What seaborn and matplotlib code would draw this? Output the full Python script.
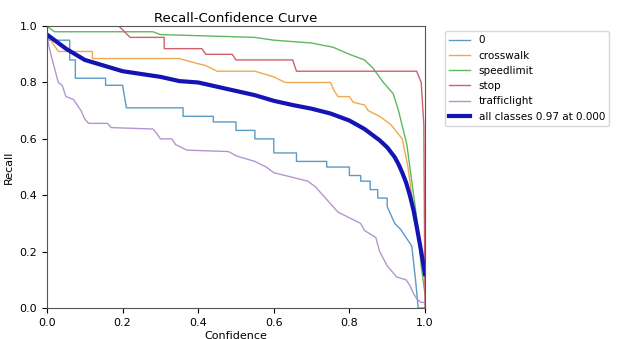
import pandas as pd
import matplotlib
matplotlib.use('Agg')
import matplotlib.pyplot as plt
from matplotlib.ticker import FormatStrFormatter
import seaborn as sns

# Datos
x_0 = [0, 0.005, 0.06, 0.06, 0.075, 0.075, 0.155, 0.155, 0.2, 0.21, 0.36, 0.36, 0.44, 0.44,
       0.5, 0.5, 0.55, 0.55, 0.6, 0.6, 0.66, 0.66, 0.74, 0.74, 0.8, 0.8, 0.83, 0.83, 0.855, 0.855,
       0.875, 0.875, 0.9, 0.9, 0.92, 0.935, 0.95, 0.965, 0.975, 0.982, 1.0]
y_0 = [0.97, 0.95, 0.95, 0.88, 0.88, 0.815, 0.815, 0.79, 0.79, 0.71, 0.71, 0.68, 0.68, 0.66,
       0.66, 0.63, 0.63, 0.60, 0.60, 0.55, 0.55, 0.52, 0.52, 0.50, 0.50, 0.47, 0.47, 0.45, 0.45, 0.42,
       0.42, 0.39, 0.39, 0.36, 0.30, 0.28, 0.25, 0.22, 0.10, 0.0, 0.0]

x_cross = [0, 0.03, 0.12, 0.12, 0.35, 0.39, 0.42, 0.45, 0.55, 0.6, 0.63, 0.75, 0.76, 0.77, 0.8,
           0.81, 0.84, 0.85, 0.88, 0.91, 0.94, 0.955, 0.97, 0.985, 1.0]
y_cross = [0.97, 0.91, 0.91, 0.885, 0.885, 0.87, 0.86, 0.84, 0.84, 0.82, 0.80, 0.80, 0.77, 0.75, 0.75,
           0.73, 0.72, 0.70, 0.68, 0.65, 0.60, 0.50, 0.35, 0.25, 0.12]

x_speed = [0, 0.02, 0.28, 0.3, 0.55, 0.6, 0.7, 0.757, 0.8, 0.84, 0.863, 0.89, 0.916, 0.93,
           0.952, 0.965, 0.98, 0.99, 1.0]
y_speed = [1.0, 0.98, 0.98, 0.97, 0.96, 0.95, 0.94, 0.925, 0.90, 0.88, 0.85, 0.80, 0.76, 0.70,
           0.58, 0.45, 0.30, 0.15, 0.05]

x_stop = [0, 0.19, 0.22, 0.31, 0.31, 0.41, 0.42, 0.49, 0.5, 0.65, 0.66, 0.978, 0.99, 0.997, 1.0]
y_stop = [1.0, 1.0, 0.96, 0.96, 0.92, 0.92, 0.90, 0.90, 0.88, 0.88, 0.84, 0.84, 0.80, 0.65, 0.0]

x_traffic = [0, 0.01, 0.02, 0.03, 0.04, 0.05, 0.07, 0.08, 0.09, 0.1, 0.11, 0.16, 0.17, 0.28, 0.29,
             0.3, 0.33, 0.34, 0.37, 0.48, 0.5, 0.55, 0.58, 0.6, 0.63, 0.66, 0.69, 0.71, 0.73, 0.75,
             0.77, 0.8, 0.83, 0.84, 0.87, 0.88, 0.9, 0.925, 0.95, 0.96, 0.97, 0.98, 0.99, 1.0]
y_traffic = [0.96, 0.9, 0.85, 0.8, 0.79, 0.75, 0.74, 0.72, 0.70, 0.67, 0.655, 0.655, 0.64, 0.635, 0.62,
             0.60, 0.60, 0.58, 0.56, 0.555, 0.54, 0.52, 0.50, 0.48, 0.47, 0.46, 0.45, 0.43, 0.40, 0.37,
             0.34, 0.32, 0.30, 0.275, 0.25, 0.20, 0.15, 0.11, 0.10, 0.08, 0.05, 0.03, 0.02, 0.02]

x_all = [0, 0.05, 0.1, 0.15, 0.2, 0.25, 0.3, 0.35, 0.4, 0.45, 0.5, 0.55, 0.6, 0.65, 0.7, 0.75,
         0.8, 0.82, 0.84, 0.86, 0.88, 0.9, 0.92, 0.93, 0.94, 0.95, 0.96, 0.97, 0.98, 0.99, 1.0]
y_all = [0.97, 0.92, 0.88, 0.86, 0.84, 0.83, 0.82, 0.805, 0.80, 0.785, 0.77, 0.755, 0.735, 0.72,
         0.707, 0.69, 0.665, 0.65, 0.635, 0.615, 0.595, 0.57, 0.535, 0.51, 0.48, 0.445, 0.40,
         0.345, 0.275, 0.20, 0.12]

clases = ['0', 'crosswalk', 'speedlimit', 'stop', 'trafficlight']
curvas = [(x_0, y_0), (x_cross, y_cross), (x_speed, y_speed), (x_stop, y_stop), (x_traffic, y_traffic)]
colores = ['#5b9bc4', '#f0a850', '#5fb860', '#d0606a', '#b496cf']

fig = plt.figure(figsize=(6.31, 3.39), dpi=100)
ax = fig.add_axes([0.0745, 0.0914, 0.599, 0.8316])

for nombre, (xs, ys), c in zip(clases, curvas, colores):
    sns.lineplot(x=xs, y=ys, ax=ax, color=c, linewidth=1, label=nombre,
                 estimator=None, sort=False)

sns.lineplot(x=x_all, y=y_all, ax=ax, color='#1414b4', linewidth=3,
             label='all classes 0.97 at 0.000', estimator=None, sort=False)

ax.set_xlim(0, 1)
ax.set_ylim(0, 1)
ax.xaxis.set_major_formatter(FormatStrFormatter('%.1f'))
ax.yaxis.set_major_formatter(FormatStrFormatter('%.1f'))
ax.set_xlabel('Confidence', fontsize=8, labelpad=2)
ax.set_ylabel('Recall', fontsize=8)
ax.set_title('Recall-Confidence Curve', fontsize=9.5, pad=3)
ax.tick_params(labelsize=8)
for s in ax.spines.values():
    s.set_color('#555555')
ax.legend(bbox_to_anchor=(1.04, 1), loc='upper left', fontsize=7.5)

plt.savefig('out.png', dpi=100)
